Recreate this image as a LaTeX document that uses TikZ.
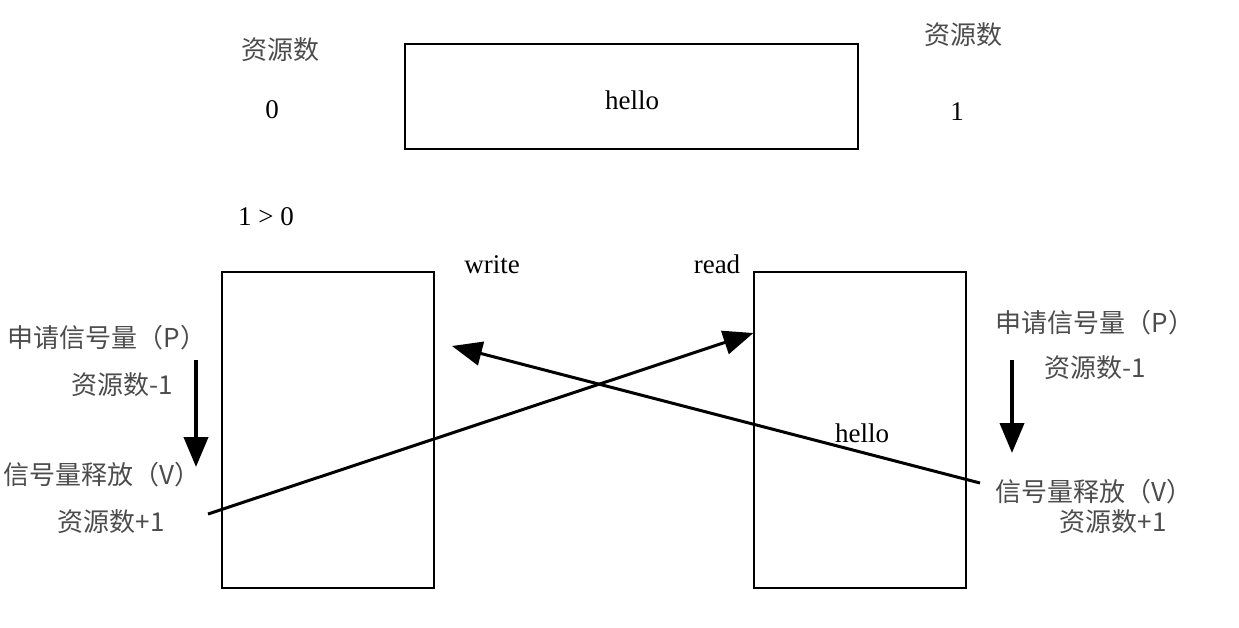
\documentclass[tikz,border=0pt]{standalone}
\usepackage{fontspec}
\setmainfont{Liberation Serif}
\newfontfamily\cjk{Noto Sans CJK SC}
\usepackage{tikz}
\usetikzlibrary{arrows.meta,shapes}

\begin{document}
\begin{tikzpicture}[
  font=\fontsize{27bp}{30bp}\selectfont,
  box/.style={draw,line width=1.3bp,rectangle,inner sep=0pt},
  cn/.style={font=\fontsize{26bp}{30bp}\selectfont\cjk,text=black!70,inner sep=0pt},
  lat/.style={inner sep=0pt},
  big/.style={-{Triangle[length=30bp,width=24bp]},line width=3bp}]

\useasboundingbox (0bp,0bp) rectangle (1239bp,-628bp);

\node (buf) at (631.5bp,-96.5bp)[box,minimum width=453bp,minimum height=105bp] {};
\node (W) at (328bp,-430bp)[box,minimum width=212bp,minimum height=316bp] {};
\node (R) at (860bp,-430bp)[box,minimum width=212bp,minimum height=316bp] {};
\node (bufmsg) at (632bp,-100bp)[lat] {hello};

\node (n0) at (280bp,-50bp)[cn] {资源数};
\node (v0) at (272bp,-110bp)[lat] {0};
\node (n1) at (963bp,-35bp)[cn] {资源数};
\node (v1) at (957bp,-112bp)[lat] {1};
\node (cmp) at (266bp,-217bp)[lat] {1 > 0};
\node (wr) at (492bp,-265bp)[lat] {write};
\node (rd) at (717bp,-264bp)[lat] {read};

\node (PL) at (107bp,-338bp)[cn] {申请信号量（P）};
\node (PLd) at (122bp,-385bp)[cn] {资源数-1};
\node (VL) at (102bp,-475bp)[cn] {信号量释放（V）};
\node (VLd) at (111bp,-522bp)[cn] {资源数+1};
\node (PR) at (1095bp,-323bp)[cn] {申请信号量（P）};
\node (PRd) at (1095bp,-368bp)[cn] {资源数-1};
\node (VR) at (1094bp,-492bp)[cn] {信号量释放（V）};
\node (VRd) at (1113bp,-522bp)[cn] {资源数+1};
\node (msg) at (862bp,-433bp)[lat] {hello};

\coordinate (pl1) at (196bp,-360bp);
\coordinate (pl2) at (196bp,-467bp);
\coordinate (pr1) at (1012bp,-360bp);
\coordinate (pr2) at (1012bp,-453bp);
\coordinate (ws) at (208bp,-514bp);
\coordinate (rs) at (980bp,-483bp);
\coordinate (re) at (452bp,-346bp);

\draw [big,line width=4bp] (pl1) to (pl2);
\draw [big,line width=4bp] (pr1) to (pr2);
\draw [big] (ws) to ([yshift=97bp]R.west);
\draw [big] (rs) to (re);
\end{tikzpicture}
\end{document}
